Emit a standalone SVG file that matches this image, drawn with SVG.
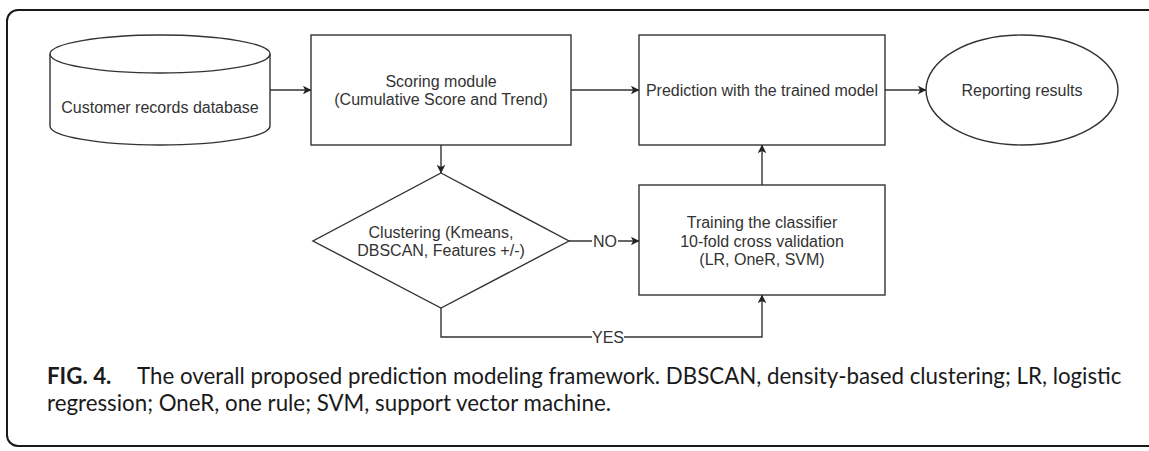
<svg xmlns="http://www.w3.org/2000/svg" width="1149" height="451" viewBox="0 0 1149 451">
<style>
.shape{fill:#fff;stroke:#333;stroke-width:1.4}
.edge{fill:none;stroke:#333;stroke-width:1.4}
.t{font-family:"Liberation Sans",Arial,sans-serif;font-size:16px;fill:#333;text-anchor:middle}
.cap{font-family:Lato,"Open Sans",sans-serif;font-size:22.3px;fill:#1a1a1a}
.lbl{fill:#fff;stroke:none}
</style>
<defs>
<marker id="arr" viewBox="0 0 10 10" refX="9.5" refY="5" markerWidth="8.5" markerHeight="8.5" markerUnits="userSpaceOnUse" orient="auto">
<path d="M0,0 L10,5 L0,10 L2.5,5 Z" fill="#222"/>
</marker>
</defs>
<rect x="7" y="10" width="1170" height="436" rx="11" fill="#fff" stroke="#1a1a1a" stroke-width="2"/>
<g id="db">
<path class="shape" d="M50,54 L50,126 A110,19 0 0 0 270,126 L270,54"/>
<ellipse class="shape" cx="160" cy="54" rx="110" ry="19"/>
<text class="t" x="160" y="113">Customer records database</text>
</g>
<g id="scoring">
<rect class="shape" x="311" y="35" width="260" height="110"/>
<text class="t" x="441" y="87">Scoring module</text>
<text class="t" x="441" y="105">(Cumulative Score and Trend)</text>
</g>
<g id="prediction">
<rect class="shape" x="639" y="35" width="246" height="110"/>
<text class="t" x="762" y="96">Prediction with the trained model</text>
</g>
<g id="reporting">
<ellipse class="shape" cx="1022" cy="90" rx="96" ry="55"/>
<text class="t" x="1022" y="96">Reporting results</text>
</g>
<g id="clustering">
<path class="shape" d="M441,173 L569,241 L441,308 L313,241 Z"/>
<text class="t" x="441" y="238">Clustering (Kmeans,</text>
<text class="t" x="441" y="256">DBSCAN, Features +/-)</text>
</g>
<g id="training">
<rect class="shape" x="639" y="185" width="246" height="110"/>
<text class="t" x="762" y="228">Training the classifier</text>
<text class="t" x="762" y="247">10-fold cross validation</text>
<text class="t" x="762" y="265">(LR, OneR, SVM)</text>
</g>
<g id="connectors">
<path class="edge" d="M270,90 L311,90" marker-end="url(#arr)"/>
<path class="edge" d="M571,90 L639,90" marker-end="url(#arr)"/>
<path class="edge" d="M885,90 L926,90" marker-end="url(#arr)"/>
<path class="edge" d="M441,145 L441,173" marker-end="url(#arr)"/>
<path class="edge" d="M762,185 L762,145" marker-end="url(#arr)"/>
<path class="edge" d="M569,241 L639,241" marker-end="url(#arr)"/>
<path class="edge" d="M441,308 L441,337 L762,337 L762,295" marker-end="url(#arr)"/>
<rect class="lbl" x="592" y="233" width="26" height="16"/>
<text class="t" x="605" y="247">NO</text>
<rect class="lbl" x="592" y="329" width="32" height="16"/>
<text class="t" x="608" y="343">YES</text>
</g>
<g id="caption">
<text class="cap" x="47" y="384"><tspan font-weight="bold">FIG. 4.</tspan><tspan x="137">The overall proposed prediction modeling framework. DBSCAN, density-based clustering; LR, logistic</tspan><tspan x="47" y="411">regression; OneR, one rule; SVM, support vector machine.</tspan></text>
</g>
</svg>
